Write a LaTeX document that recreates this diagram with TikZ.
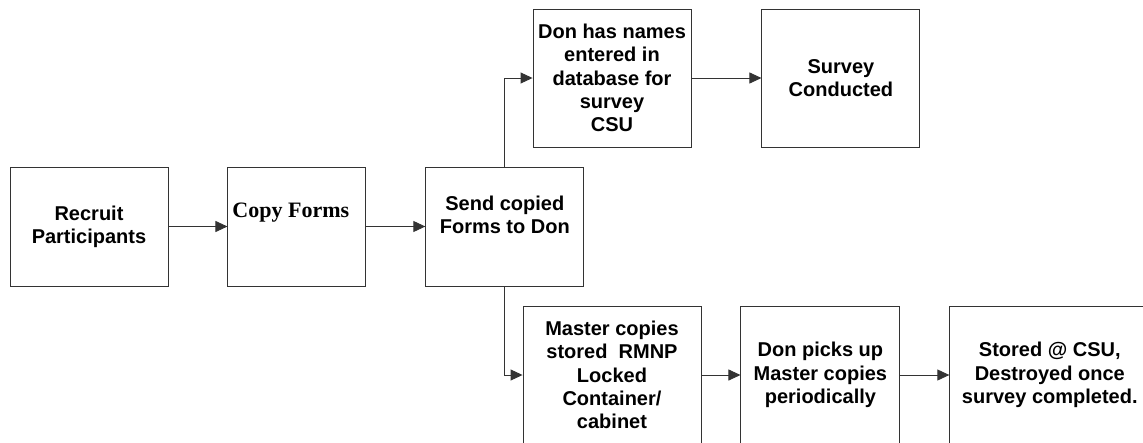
\documentclass[tikz,border=0pt]{standalone}
\usepackage{fontspec}
\setmainfont{Liberation Sans}
\newfontfamily\timesfont{Liberation Serif}
\usepackage{tikz}
\usetikzlibrary{arrows.meta,positioning}
\definecolor{edge}{HTML}{333333}
\tikzset{
  step_box/.style={draw=edge,line width=0.9pt,minimum width=158pt,minimum height=119pt,
    inner sep=2pt,align=center,font=\fontsize{20}{23.3}\selectfont\bfseries},
  tall_box/.style={step_box,minimum height=138pt},
  arr/.style={-{Triangle[length=12pt,width=11pt]},draw=edge,line width=0.9pt},
}
\begin{document}
\begin{tikzpicture}[x=1pt,y=-1pt]
  \clip (0,0) rectangle (1143,442);

  \node[step_box] (recruit) at (89,226.5) {Recruit\\Participants};
  \node[step_box,minimum width=138pt,right=59pt of recruit] (copy) {};
  \node[anchor=west,font=\timesfont\fontsize{22}{26}\selectfont\bfseries,xshift=1.5pt,yshift=13.5pt]
    (copytxt) at (copy.west) {Copy Forms};
  \node[step_box,right=59pt of copy] (send) {};
  \node[align=center,font=\fontsize{20}{23.3}\selectfont\bfseries,yshift=12pt]
    (sendtxt) at (send) {Send copied\\Forms to Don};

  \node[tall_box] (names) at (612,78) {Don has names\\entered in\\database for\\survey\\CSU};
  \node[tall_box,right=70pt of names] (survey) {Survey\\Conducted};

  \node[tall_box,minimum width=178pt] (master) at (612,375) {Master copies\\stored~ RMNP\\Locked\\Container/\\cabinet};
  \node[tall_box,minimum width=159pt,right=39pt of master] (picks) {Don picks up\\Master copies\\periodically};
  \node[tall_box,minimum width=200pt,right=49pt of picks] (stored) {Stored @ CSU,\\Destroyed once\\survey completed.};

  \draw[arr](recruit)--(copy);\draw[arr](copy)--(send);
  \draw[arr](send.north)|-(names.west);
  \draw[arr](names)--(survey);
  \draw[arr](send.south)|-(master.west);
  \draw[arr](master)--(picks);\draw[arr](picks)--(stored);
\end{tikzpicture}
\end{document}
